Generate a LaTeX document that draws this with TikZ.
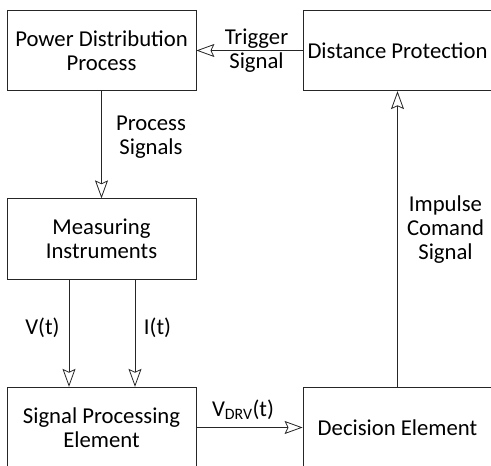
\documentclass[tikz,border=0pt]{standalone}
\usepackage{fontspec}
\setmainfont{Carlito}
\usetikzlibrary{arrows.meta}

\tikzset{
  block/.style={draw=black!85, line width=0.8pt, minimum width=189pt,
    minimum height=80.5pt, inner sep=0pt, align=center,
    font=\fontsize{22.7}{24}\selectfont},
  flow/.style={draw=black!85, line width=0.8pt,
    -{Stealth[open, length=18pt, width=13pt, inset=3pt]}},
  lbl/.style={align=center, font=\fontsize{22.7}{24}\selectfont}
}

\begin{document}
\begin{tikzpicture}[x=1pt, y=-1pt]
    \useasboundingbox (0,0) rectangle (491,466);
    % blocks
    \node[block] (pdp) at (101.5,50.5) {Power Distribution\\Process};
    \node[block] (dp) at (397.5,50.5) {Distance Protection};
    \node[block] (mi) at (101.5,239) {Measuring\\Instruments};
    \node[block] (spe) at (101.5,427.5) {Signal Processing\\Element};
    \node[block] (de) at (397.5,427.5) {Decision Element};
    % signals
    \draw[flow] (dp.west) -- (pdp.east)
      node[lbl, midway, xshift=7pt] (trig) {Trigger\\Signal};
    \draw[flow] (pdp.south) -- (mi.north)
      node[lbl, midway, xshift=49.5pt, yshift=8pt] (ps) {Process\\Signals};
    \draw[flow] (mi.south -| 69,0) -- (spe.north -| 69,0)
      node[lbl, midway, xshift=-26.5pt, yshift=5pt] (vt) {V(t)};
    \draw[flow] (mi.south -| 135,0) -- (spe.north -| 135,0)
      node[lbl, midway, xshift=22.5pt, yshift=5pt] (it) {I(t)};
    \draw[flow] (spe.east) -- (de.west)
      node[lbl, midway, xshift=-6.5pt, yshift=18pt] (vdrv) {V\textsubscript{DRV}(t)};
    \draw[flow] (de.north) -- (dp.south)
      node[lbl, midway, xshift=48pt, yshift=9.5pt] (ics) {Impulse\\Comand\\Signal};
\end{tikzpicture}
\end{document}
